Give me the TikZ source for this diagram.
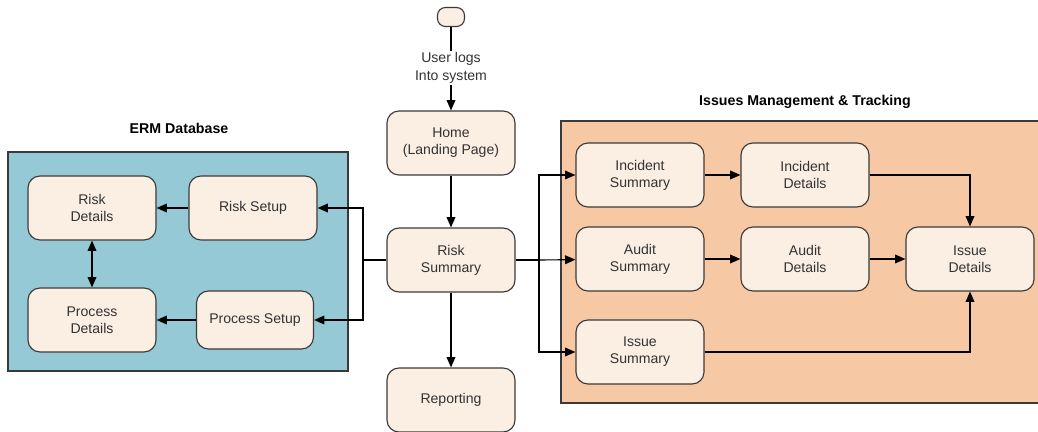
\documentclass[tikz,border=0pt]{standalone}
\usepackage{fontspec}
\setmainfont{Liberation Sans}
\usetikzlibrary{arrows.meta,calc,backgrounds}
\definecolor{ERMTeal}{HTML}{95C9D6}
\definecolor{IssPeach}{HTML}{F6C8A3}
\definecolor{CardCream}{HTML}{FBEEE2}
\definecolor{EdgeGrey}{HTML}{3A3A3A}
\definecolor{TextGrey}{HTML}{333333}
\tikzset{
  card/.style={draw=EdgeGrey, line width=0.8pt, fill=CardCream, rounded corners=0.3cm,
    minimum width=3.2cm, minimum height=1.6cm, align=center, text=TextGrey,
    font=\fontsize{10}{12}\selectfont},
  zone/.style={draw=EdgeGrey, line width=0.9pt},
  zonetitle/.style={font=\fontsize{10.1}{12}\bfseries\selectfont, text=black},
  link/.style={draw=black, line width=0.8pt},
  flow/.style={link, -{Triangle[length=2.6mm,width=2.2mm]}}
}
\begin{document}
\begin{tikzpicture}[x=0.025cm, y=-0.025cm]
  \useasboundingbox (0,0) rectangle (1038,432);
  % zones
  \draw[zone, fill=ERMTeal] (8,152) rectangle (348,371);
  \draw[zone, fill=IssPeach] (561,121) rectangle (1045,403);
  \node[zonetitle] (ermtitle) at (179,128) {ERM Database};
  \node[zonetitle] (isstitle) at (805,102) {Issues Management \& Tracking};
  % centre column
  \node[draw=EdgeGrey, line width=0.8pt, fill=CardCream, rounded corners=0.2cm,
    minimum width=0.675cm, minimum height=0.475cm] (start) at (451,17) {};
  \node[align=center, text=TextGrey, font=\fontsize{10}{12.5}\selectfont, fill=white,
    inner sep=1pt] (login) at (451,68) {User logs\\Into system};
  \node[card] (home) at (451,143) {Home\\(Landing Page)};
  \node[card] (risksum) at (451,260) {Risk\\Summary};
  \node[card] (report) at (451,400) {Reporting};
  % ERM database
  \node[card] (riskdet) at (92,208) {Risk\\Details};
  \node[card] (risksetup) at (253,208) {Risk Setup};
  \node[card] (procdet) at (92,320) {Process\\Details};
  \node[card, minimum width=2.925cm, minimum height=1.45cm] (procsetup) at (255,320) {Process Setup};
  % issues
  \node[card] (incsum) at (640,175) {Incident\\Summary};
  \node[card] (incdet) at (805,175) {Incident\\Details};
  \node[card] (audsum) at (640,259) {Audit\\Summary};
  \node[card] (auddet) at (805,259) {Audit\\Details};
  \node[card] (issdet) at (970,259) {Issue\\Details};
  \node[card] (isssum) at (640,352) {Issue\\Summary};
  % connectors
  \draw[link] (start) -- (login);
  \draw[flow] (login) -- (home);
  \draw[flow] (home) -- (risksum);
  \draw[flow] (risksum) -- (report);
  \draw[link] (risksum.west) -- (363,260) coordinate (lsplit);
  \draw[flow] (lsplit) |- (risksetup);
  \draw[flow] (lsplit) |- (procsetup);
  \draw[flow] (risksetup) -- (riskdet);
  \draw[flow] (procsetup) -- (procdet);
  \draw[link, {Triangle[length=2.6mm,width=2.2mm]}-{Triangle[length=2.6mm,width=2.2mm]}] (riskdet) -- (procdet);
  \draw[link] (risksum.east) -- (539,260) coordinate (rsplit);
  \draw[flow] (rsplit) |- (incsum);
  \draw[flow] (rsplit) -- (audsum);
  \draw[flow] (rsplit) |- (isssum);
  \draw[flow] (incsum) -- (incdet);
  \draw[flow] (audsum) -- (auddet);
  \draw[flow] (auddet) -- (issdet);
  \draw[flow] (incdet) -| (issdet);
  \draw[flow] (isssum) -| (issdet);
\end{tikzpicture}
\end{document}
